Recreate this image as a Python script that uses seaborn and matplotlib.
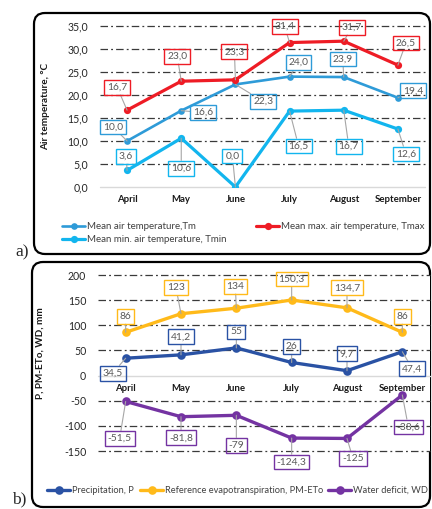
import numpy as np
import pandas as pd
import matplotlib
matplotlib.use("Agg")
import matplotlib.pyplot as plt
import matplotlib.patches as mpatches
from matplotlib.transforms import IdentityTransform
import seaborn as sns

# ---- data ----
months = ["April", "May", "June", "July", "August", "September"]
t_mean = [10.0, 16.6, 22.3, 24.0, 23.9, 19.4]
t_max = [16.7, 23.0, 23.3, 31.4, 31.7, 26.5]
t_min = [3.6, 10.6, 0.0, 16.5, 16.7, 12.6]
precip = [34.5, 41.2, 55, 26, 9.7, 47.4]
eto = [86, 123, 134, 150.3, 134.7, 86]
water_deficit = [-51.5, -81.8, -79, -124.3, -125, -38.6]
temp_ticks = [0, 5, 10, 15, 20, 25, 30, 35]
mm_ticks = [-150, -100, -50, 0, 50, 100, 150, 200]

# ---- label offsets (pixels, x right / y up) ----
off_tmax = [(-10, 23), (-4, 25), (-1, 28), (-5, 16), (8, 14), (8, 22)]
off_tmean = [(-14, 14), (22, -2), (28, -17), (9, 14), (-1, 18), (15, 7)]
off_tmin = [(-1, 14), (0, -30), (-3, 31), (9, -35), (5, -36), (8, -25)]
off_eto = [(0, 16), (-5, 26), (-1, 22), (0, 21), (0, 20), (0, 16)]
off_p = [(-13, -15), (0, 18), (0, 16), (0, 16), (0, 17), (10, -17)]
off_wd = [(-6, -37), (0, -21), (0, -30), (0, -24), (6, -20), (6, -32)]

W, H = 432, 509
sns.set_style("white")
plt.rcParams["font.family"] = ["Lato", "DejaVu Sans"]

fig = plt.figure(figsize=(W / 100, H / 100), dpi=100)

C_TMEAN = "#2E9BD8"
C_TMAX = "#EE1C25"
C_TMIN = "#12B5EE"
C_P = "#2A52A4"
C_ETO = "#FFBA1A"
C_WD = "#7433A2"
LABEL_GREY = "#595959"
GRID = "#3A3A3A"


def ax_rect(left, top, right, bottom):
    return [left / W, 1 - bottom / H, (right - left) / W, (bottom - top) / H]


def style_axes(ax, ticks, fmt, ylim):
    ax.set_xlim(-0.5, 5.5)
    ax.set_ylim(*ylim)
    for s in ax.spines.values():
        s.set_visible(False)
    ax.set_xticks([])
    ax.set_yticks(ticks)
    ax.set_yticklabels([fmt(t) for t in ticks], fontsize=7.6, color="#262626")
    ax.tick_params(axis="y", length=0, pad=8.5)
    ax.grid(False)
    for t in ticks:
        if t == 0:
            ax.axhline(0, color="#D9D9D9", lw=1.0, zorder=1, clip_on=False)
        else:
            ax.axhline(t, color=GRID, lw=0.9, ls=(0, (6, 2.5, 1.5, 2.5)),
                       zorder=1, clip_on=False)
    for i, m in enumerate(months):
        ax.annotate(m, (i, 0), xytext=(0, -8), textcoords="offset pixels",
                    ha="center", va="top", fontsize=6.9, fontweight="bold",
                    color="#1A1A1A")


def draw_series(ax, values, color, name, lw, ms, offsets, fmt):
    df = pd.DataFrame({"x": np.arange(len(months)), "y": values})
    sns.lineplot(data=df, x="x", y="y", ax=ax, color=color, lw=lw,
                 marker="o", markersize=ms, markeredgewidth=0,
                 label=name, zorder=3)
    for i, v in enumerate(values):
        ax.annotate(fmt(v), (i, v), xytext=offsets[i],
                    textcoords="offset pixels", ha="center", va="center",
                    fontsize=7.4, color=LABEL_GREY, zorder=4,
                    bbox=dict(boxstyle="square,pad=0.28", fc="none",
                              ec=color, lw=1.0),
                    arrowprops=dict(arrowstyle="-", color="#A6A6A6", lw=0.8,
                                    shrinkA=0, shrinkB=0))


fmt1 = lambda v: f"{v:.1f}".replace(".", ",")
fmtg = lambda v: f"{v:g}".replace(".", ",")

# ---- panel a: air temperature ----
ax_a = fig.add_axes(ax_rect(100, 26, 425, 187))
style_axes(ax_a, temp_ticks, fmt1, (0, 35))
draw_series(ax_a, t_mean, C_TMEAN, "Mean air temperature,Tm", 1.9, 4.8, off_tmean, fmt1)
draw_series(ax_a, t_max, C_TMAX, "Mean max. air temperature, Tmax", 2.3, 5.2, off_tmax, fmt1)
draw_series(ax_a, t_min, C_TMIN, "Mean min. air temperature, Tmin", 2.3, 5.2, off_tmin, fmt1)
ax_a.set_xlabel("")
ax_a.set_ylabel("Air temperature, °C", fontsize=7.2, fontweight="bold",
                color="#1A1A1A")
ax_a.yaxis.set_label_coords((50 - 100) / 325, 0.5)
h_a, l_a = ax_a.get_legend_handles_labels()
ax_a.legend_.remove()

# ---- panel b: water balance ----
ax_b = fig.add_axes(ax_rect(98, 275, 430, 451))
style_axes(ax_b, mm_ticks, lambda t: f"{t}", (-150, 200))
draw_series(ax_b, precip, C_P, "Precipitation, P", 2.4, 6.2, off_p, fmtg)
draw_series(ax_b, eto, C_ETO, "Reference evapotranspiration, PM-ETo", 2.4, 6.2, off_eto, fmtg)
draw_series(ax_b, water_deficit, C_WD, "Water deficit, WD", 2.4, 6.2, off_wd, fmtg)
ax_b.set_xlabel("")
ax_b.set_ylabel("P, PM-ETo, WD, mm", fontsize=7.2, fontweight="bold",
                color="#1A1A1A")
ax_b.yaxis.set_label_coords((45 - 98) / 332, 0.557)
h_b, l_b = ax_b.get_legend_handles_labels()
ax_b.legend_.remove()


def add_legend(handles, labels, x, y, size=7.0):
    fig.legend(handles, labels, loc="upper left",
               bbox_to_anchor=(x / W, 1 - y / H), frameon=False,
               fontsize=size, labelcolor="#404040", borderpad=0,
               handlelength=2.4 * 7.0 / size, handletextpad=0.15,
               labelspacing=0.42, borderaxespad=0)


add_legend([h_a[0], h_a[2]], [l_a[0], l_a[2]], 62, 222)
add_legend([h_a[1]], [l_a[1]], 256, 222)
add_legend([h_b[0]], [l_b[0]], 47, 486, 6.7)
add_legend([h_b[1]], [l_b[1]], 140, 486, 6.7)
add_legend([h_b[2]], [l_b[2]], 328, 486, 6.7)

# ---- rounded panel frames and panel letters ----
for (x0, y0, x1, y1) in [(34, 13, 430, 254), (32, 262, 430, 507)]:
    fig.add_artist(mpatches.FancyBboxPatch(
        (x0, H - y1), x1 - x0, y1 - y0,
        boxstyle="round,pad=0,rounding_size=11",
        transform=IdentityTransform(), fc="none", ec="black", lw=1.6,
        zorder=0))

fig.text(15 / W, 1 - 256 / H, "a)", family="Liberation Serif", fontsize=12.5,
         va="baseline", ha="left")
fig.text(12 / W, 1 - 503 / H, "b)", family="Liberation Serif", fontsize=12.5,
         va="baseline", ha="left")

fig.savefig("out.png", dpi=100)
